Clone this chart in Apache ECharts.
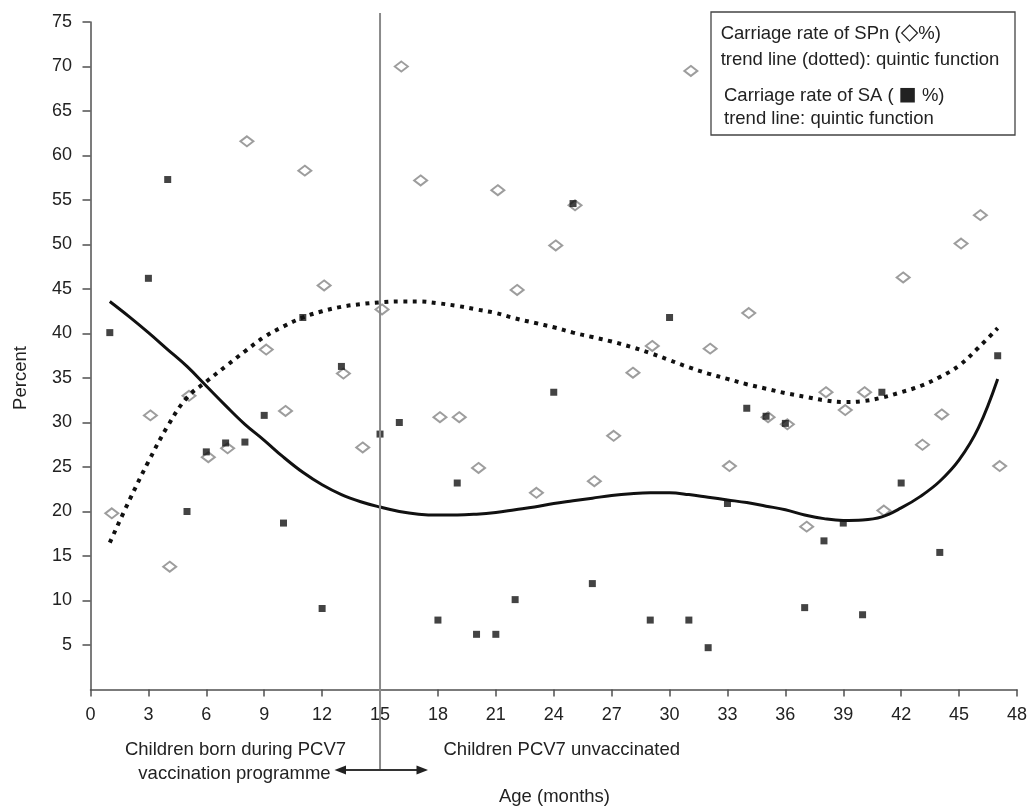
<!DOCTYPE html>
<html>
<head>
<meta charset="utf-8">
<script src="https://cdn.jsdelivr.net/npm/echarts@6/dist/echarts.min.js"></script>
<style>
html,body{margin:0;padding:0;background:#fff;}
#chart{width:1030px;height:810px;}
</style>
</head>
<body>
<div id="chart"></div>
<script>
// SA carriage (black squares)
const saMonths = [1,3,4,5,6,7,8,9,10,11,12,13,15,16,18,19,20,21,22,24,25,26,29,30,31,32,33,34,35,36,37,38,39,40,41,42,44,47];
const saValues = [40.1,46.2,57.3,20.0,26.7,27.7,27.8,30.8,18.7,41.8,9.1,36.3,28.7,30.0,7.8,23.2,6.2,6.2,10.1,33.4,54.6,11.9,7.8,41.8,7.8,4.7,20.9,31.6,30.7,29.9,9.2,16.7,18.7,8.4,33.4,23.2,15.4,37.5];
// SPn carriage (open diamonds)
const spnMonths = [1,3,4,5,6,7,8,9,10,11,12,13,14,15,16,17,18,19,20,21,22,23,24,25,26,27,28,29,31,32,33,34,35,36,37,38,39,40,41,42,43,44,45,46,47];
const spnValues = [19.8,30.8,13.8,33.0,26.1,27.1,61.6,38.2,31.3,58.3,45.4,35.5,27.2,42.7,70.0,57.2,30.6,30.6,24.9,56.1,44.9,22.1,49.9,54.4,23.4,28.5,35.6,38.6,69.5,38.3,25.1,42.3,30.6,29.8,18.3,33.4,31.4,33.4,20.1,46.3,27.5,30.9,50.1,53.3,25.1];
// Trend lines
const trendMonths = [1,2,3,4,5,6,7,8,9,10,11,12,13,14,15,16,17,18,19,20,21,22,23,24,25,26,27,28,29,30,31,32,33,34,35,36,37,38,39,40,41,42,43,44,45,46,47];
const saTrend = [43.6,41.9,40.1,38.2,36.3,34.1,31.9,29.8,28.0,26.1,24.4,23.0,21.9,21.1,20.5,20.0,19.7,19.6,19.6,19.7,19.9,20.2,20.5,20.9,21.2,21.5,21.8,22.0,22.1,22.1,21.9,21.6,21.3,21.0,20.6,20.2,19.6,19.2,19.0,19.05,19.4,20.4,21.7,23.4,25.8,29.4,34.9];
const spnTrend = [16.5,21.2,25.6,29.6,32.8,34.6,36.3,38.0,39.6,40.8,41.8,42.5,43.0,43.3,43.5,43.6,43.6,43.4,43.1,42.7,42.3,41.7,41.2,40.7,40.1,39.6,39.1,38.5,37.8,37.0,36.2,35.5,34.9,34.3,33.8,33.3,32.9,32.5,32.3,32.4,32.8,33.4,34.1,35.1,36.4,38.4,40.6];
const xTicks = {min:0, max:48, interval:3};
const yTicks = {min:0, max:75, interval:5};

const FONT = 'Liberation Sans, Arial, Helvetica, sans-serif';
const TXT = '#222';

const pairs = (xs, ys) => xs.map((x, i) => [x, ys[i]]);

const chart = echarts.init(document.getElementById('chart'), null, {renderer:'canvas'});
chart.setOption({
  animation:false,
  backgroundColor:'#fff',
  grid:{left:90.5, right:11.5, top:22, bottom:120.5, containLabel:false},
  xAxis:{
    type:'value', min:xTicks.min, max:xTicks.max, interval:xTicks.interval,
    axisLine:{show:true, onZero:false, lineStyle:{color:'#505050', width:1.5}},
    axisTick:{show:true, length:7, lineStyle:{color:'#505050', width:1.5}},
    axisLabel:{color:TXT, fontSize:18, fontFamily:FONT, margin:17},
    splitLine:{show:false}
  },
  yAxis:{
    type:'value', min:yTicks.min, max:yTicks.max, interval:yTicks.interval,
    axisLine:{show:true, onZero:false, lineStyle:{color:'#505050', width:1.5}},
    axisTick:{show:true, length:8, lineStyle:{color:'#505050', width:1.5}},
    axisLabel:{color:TXT, fontSize:18, fontFamily:FONT, margin:18.5, showMinLabel:false},
    splitLine:{show:false}
  },
  series:[
    {
      name:'SPn', type:'scatter', data:pairs(spnMonths, spnValues),
      symbol:'diamond', symbolSize:[13,10], symbolOffset:[2,0],
      itemStyle:{color:'#fff', borderColor:'#858585', borderWidth:2},
      z:2
    },
    {
      name:'SA', type:'scatter', data:pairs(saMonths, saValues),
      symbol:'rect', symbolSize:7,
      itemStyle:{color:'#141414'},
      z:3
    },
    {
      name:'SA trend', type:'line', data:pairs(trendMonths, saTrend),
      smooth:0.4, showSymbol:false, symbol:'none',
      lineStyle:{color:'#111', width:3},
      z:4
    },
    {
      name:'SPn trend', type:'line', data:pairs(trendMonths, spnTrend),
      smooth:0.4, showSymbol:false, symbol:'none',
      lineStyle:{color:'#111', width:4, type:[4,5.5], cap:'butt'},
      z:4
    }
  ]
});

// Annotation: vertical divider at month 15 and arrows
const p15 = chart.convertToPixel({gridIndex:0}, [15, 75]);
const vx = p15[0];
const arrowY = 770;
const legRich = {
  a:{fontSize:18.5, fontFamily:FONT, fill:TXT, color:TXT},
  d:{fontSize:23, fontFamily:'DejaVu Sans, ' + FONT, color:TXT},
  s:{fontSize:19, fontFamily:'DejaVu Sans, ' + FONT, color:TXT}
};
const graphics = [
  {type:'line', shape:{x1:vx, y1:p15[1]-9, x2:vx, y2:arrowY}, style:{stroke:'#8a8a8a', lineWidth:2}, z:10},
  {type:'line', shape:{x1:vx-35, y1:arrowY, x2:vx+37, y2:arrowY}, style:{stroke:'#333', lineWidth:2}, z:11},
  {type:'polygon', shape:{points:[[vx-45.5,arrowY],[vx-34,arrowY-4.5],[vx-34,arrowY+4.5]]}, style:{fill:'#222'}, z:11},
  {type:'polygon', shape:{points:[[vx+48,arrowY],[vx+36.5,arrowY-4.5],[vx+36.5,arrowY+4.5]]}, style:{fill:'#222'}, z:11},
  // legend box
  {type:'rect', shape:{x:711, y:12, width:304, height:123}, style:{fill:'#fff', stroke:'#444', lineWidth:1.3}, z:12},
  {type:'text', x:720.7, y:33.5, style:{text:'{a|Carriage rate of SPn (}{d|\u25C7}{a|%)}', rich:legRich, fill:TXT, textVerticalAlign:'middle'}, z:13},
  {type:'text', x:720.7, y:59.5, style:{text:'trend line (dotted): quintic function', font:'18.5px '+FONT, fill:TXT, textVerticalAlign:'middle'}, z:13},
  {type:'text', x:724, y:95.5, style:{text:'{a|Carriage rate of SA ( }{s|\u25A0}{a| %)}', rich:legRich, fill:TXT, textVerticalAlign:'middle'}, z:13},
  {type:'text', x:724, y:118.5, style:{text:'trend line: quintic function', font:'18.5px '+FONT, fill:TXT, textVerticalAlign:'middle'}, z:13},
  // bottom annotations
  {type:'text', x:235.5, y:750, style:{text:'Children born during PCV7', font:'18.5px '+FONT, fill:TXT, textAlign:'center', textVerticalAlign:'middle'}, z:13},
  {type:'text', x:234.5, y:774, style:{text:'vaccination programme', font:'18.5px '+FONT, fill:TXT, textAlign:'center', textVerticalAlign:'middle'}, z:13},
  {type:'text', x:443.5, y:750, style:{text:'Children PCV7 unvaccinated', font:'18.5px '+FONT, fill:TXT, textAlign:'left', textVerticalAlign:'middle'}, z:13},
  {type:'text', x:554.5, y:797, style:{text:'Age (months)', font:'18.5px '+FONT, fill:TXT, textAlign:'center', textVerticalAlign:'middle'}, z:13},
  {type:'text', x:20.7, y:378, rotation:Math.PI/2, style:{text:'Percent', font:'18.5px '+FONT, fill:TXT, textAlign:'center', textVerticalAlign:'middle'}, z:13}
];
chart.setOption({graphic:graphics});
</script>
</body>
</html>
